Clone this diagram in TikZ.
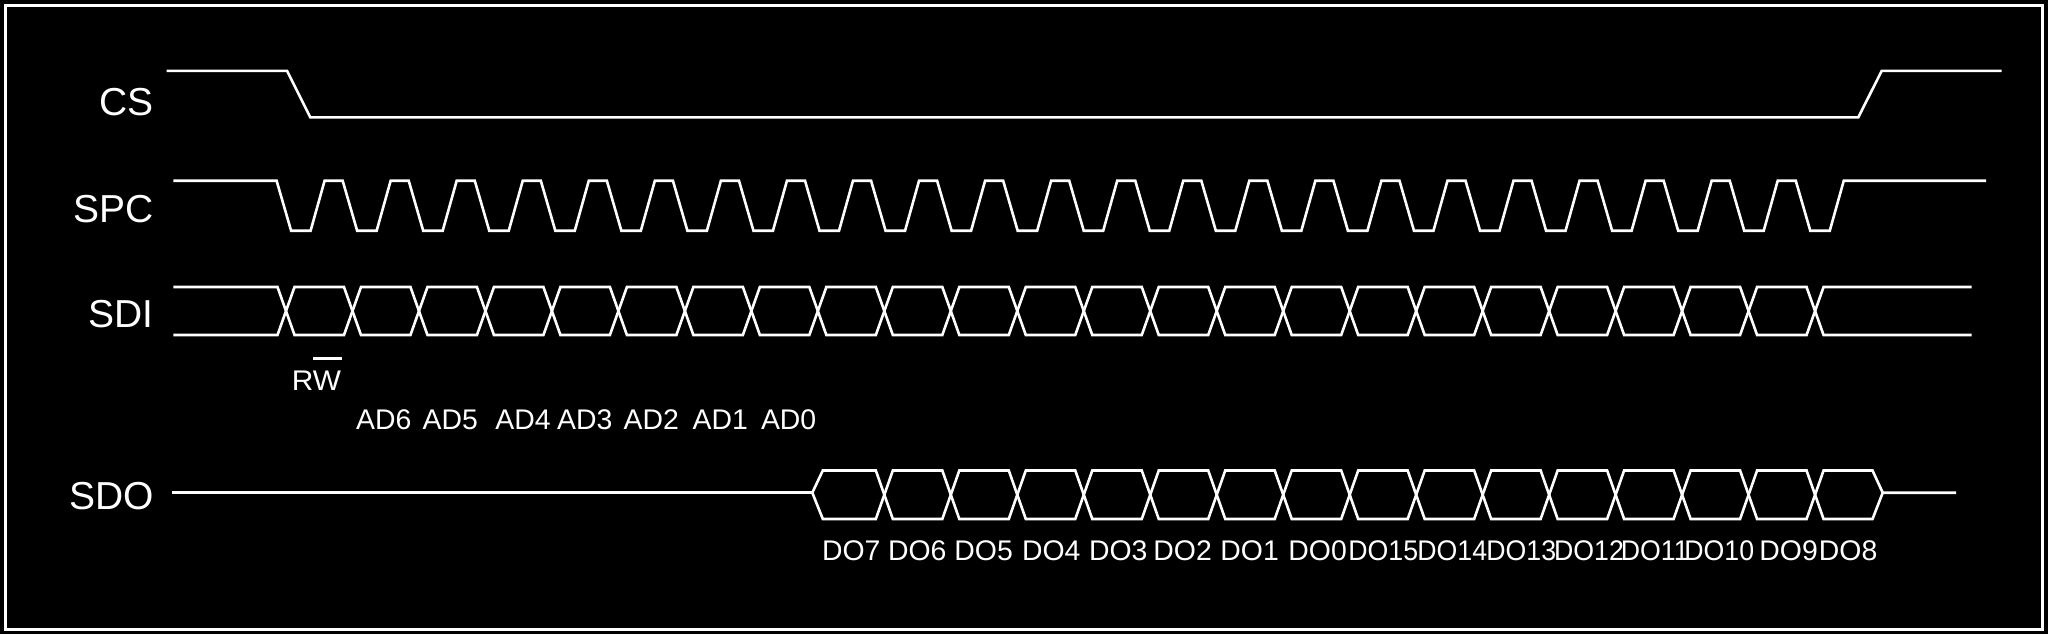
\documentclass[tikz,border=0pt]{standalone}
\usepackage{fontspec}
\setmainfont{Liberation Sans}
\begin{document}
\begin{tikzpicture}[x=0.5pt,y=-0.5pt,
  sig/.style={white, line width=1.3pt, line join=miter},
  lbl/.style={text=white, inner sep=0pt, font=\fontsize{19.5pt}{21pt}\selectfont},
  bit/.style={text=white, inner sep=0pt, font=\fontsize{14.2pt}{15pt}\selectfont}]
\fill[black] (0,0) rectangle (2048,634);
\useasboundingbox (0,0) rectangle (2048,634);
\draw[white, line width=1.4pt] (5.6,5.7) rectangle (2042.7,629.3);

% signal names
\node[lbl, anchor=base east] (cs)  at (154,115)   {CS};
\node[lbl, anchor=base east] (spc) at (154,222)   {SPC};
\node[lbl, anchor=base east] (sdi) at (154,327)   {SDI};
\node[lbl, anchor=base east] (sdo) at (154,509.5) {SDO};

% CS
\draw[sig] (166.6,70.8) -- (287,70.8) -- (310.3,117.3) -- (1858.3,117.3) -- (1881.7,70.8) -- (2001.7,70.8);

% SPC
\draw[sig] (173.3,180.7) foreach \k in {0,...,23} {
   -- ({276.6+\k*66.05},180.7) -- ({291.1+\k*66.05},230.7)
   -- ({310.6+\k*66.05},230.7) -- ({324.6+\k*66.05},180.7) } -- (1986,180.7);

% SDI
\draw[sig] (173.3,287) foreach \j in {0,...,11} {
   -- ({286+2*\j*66.48-8.5},287) -- ({286+2*\j*66.48+8.5},335)
   -- ({286+(2*\j+1)*66.48-8.5},335) -- ({286+(2*\j+1)*66.48+8.5},287) } -- (1971.7,287);
\draw[sig] (173.3,335) foreach \j in {0,...,11} {
   -- ({286+2*\j*66.48-8.5},335) -- ({286+2*\j*66.48+8.5},287)
   -- ({286+(2*\j+1)*66.48-8.5},287) -- ({286+(2*\j+1)*66.48+8.5},335) } -- (1971.7,335);

% SDO
\draw[sig] (172.2,492.7) -- (812.3,492.7);
\draw[sig] (812.3,492.7) -- (822.8,470.5) foreach \j in {0,...,6} {
   -- ({286+(9+2*\j)*66.48-8.5},470.5) -- ({286+(9+2*\j)*66.48+8.5},519)
   -- ({286+(10+2*\j)*66.48-8.5},519) -- ({286+(10+2*\j)*66.48+8.5},470.5) }
   -- ({286+23*66.48-8.5},470.5) -- ({286+23*66.48+8.5},519)
   -- (1872.5,519) -- (1882.7,492.7) -- (1956,492.7);
\draw[sig] (812.3,492.7) -- (822.8,519) foreach \j in {0,...,6} {
   -- ({286+(9+2*\j)*66.48-8.5},519) -- ({286+(9+2*\j)*66.48+8.5},470.5)
   -- ({286+(10+2*\j)*66.48-8.5},470.5) -- ({286+(10+2*\j)*66.48+8.5},519) }
   -- ({286+23*66.48-8.5},519) -- ({286+23*66.48+8.5},470.5)
   -- (1872.5,470.5) -- (1882.7,492.7);

% SDI bit labels
\node[bit, anchor=base west] (rw) at (291.5,390.5) {\scalebox{1.05}[1]{RW}};
\draw[white, line width=1.2pt] (313.3,358.5) -- (341.7,358.5);
\foreach \n/\x in {ad6/355.7, ad5/422.3, ad4/495, ad3/556.7, ad2/623.3, ad1/692.3, ad0/760.6}{
  \node[bit, anchor=base west] (\n) at (\x,429.3) {\MakeUppercase{\n}};
}

% SDO bit labels
\foreach \t/\x in {7/823.7, 6/889.7, 5/956, 4/1023.7, 3/1090.6, 2/1155, 1/1222, 0/1290}{
  \node[bit, anchor=base west] (do\t) at ({\x-2},560) {DO\t};
}
\foreach \t/\x in {15/1350, 14/1419, 13/1488, 12/1555.7, 11/1622.5, 10/1686}{
  \node[bit, anchor=base west] (do\t) at ({\x-2},560) {\scalebox{0.94}[1]{DO\t}};
}
\node[bit, anchor=base west] (do9) at (1759,560) {DO9};
\node[bit, anchor=base west] (do8) at (1818.5,560) {DO8};
\end{tikzpicture}
\end{document}
